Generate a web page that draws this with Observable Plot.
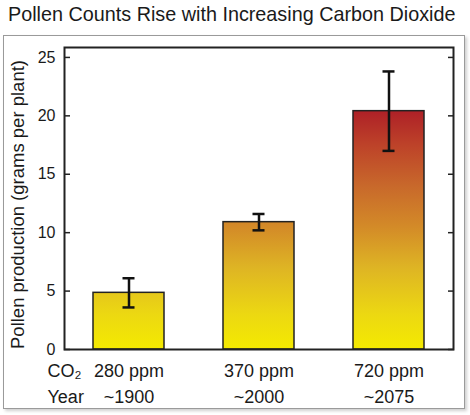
<!DOCTYPE html>
<html>
<head>
<meta charset="utf-8">
<script src="https://cdn.jsdelivr.net/npm/d3@7"></script>
<script src="https://cdn.jsdelivr.net/npm/@observablehq/plot@0.6"></script>
<style>
  html, body { margin: 0; padding: 0; background: #fff; }
  body { width: 470px; height: 415px; position: relative; overflow: hidden; font-family: "Liberation Sans", Arial, sans-serif; }
  #title { position: absolute; left: 8px; top: 3px; font-size: 19.8px; color: #1a1a1a; white-space: nowrap; }
  #panel { position: absolute; left: 3px; top: 35px; width: 460px; height: 372px; border: 1px solid #9a9a9a; box-shadow: 2px 2px 3px #cfcfcf; background: #fff; }
  #panel svg { display: block; }
</style>
</head>
<body>
<div id="title">Pollen Counts Rise with Increasing Carbon Dioxide</div>
<div id="panel"></div>
<script>
const co2Levels = ["280 ppm", "370 ppm", "720 ppm"];
const years = ["~1900", "~2000", "~2075"];
const pollen = [4.85, 10.9, 20.4];
const errLow = [3.6, 10.2, 17.0];
const errHigh = [6.1, 11.6, 23.8];
const yTicks = [0, 5, 10, 15, 20, 25];

const data = co2Levels.map((c, i) => ({co2: c, year: years[i], value: pollen[i], lo: errLow[i], hi: errHigh[i]}));
const yearOf = Object.fromEntries(data.map(d => [d.co2, d.year]));

const chart = Plot.plot({
  width: 460,
  height: 370,
  marginLeft: 60,
  marginRight: 11,
  marginTop: 11,
  marginBottom: 57,
  style: {fontFamily: "Liberation Sans, Arial, sans-serif", color: "#1a1a1a", background: "transparent"},
  x: {domain: co2Levels, paddingInner: 0.456, paddingOuter: 0.218, label: null},
  y: {domain: [0, 25.85], label: null},
  marks: [
    Plot.barY(data, {x: "co2", y: "value", fill: "url(#pollenGrad)", stroke: "#222", strokeWidth: 1.5}),
    Plot.ruleX(data, {x: "co2", y1: "lo", y2: "hi", stroke: "#111", strokeWidth: 2.5}),
    Plot.tickY(data, {x: "co2", y: "lo", stroke: "#111", strokeWidth: 2.5, insetLeft: 29.5, insetRight: 29.5}),
    Plot.tickY(data, {x: "co2", y: "hi", stroke: "#111", strokeWidth: 2.5, insetLeft: 29.5, insetRight: 29.5}),
    Plot.axisY(yTicks, {anchor: "left", tickSize: -6, tickPadding: 15, fontSize: 16, stroke: "#222", strokeWidth: 1.5, label: null}),
    Plot.axisY(yTicks, {anchor: "right", tickSize: -6, tickFormat: () => "", stroke: "#222", strokeWidth: 1.5, label: null}),
    Plot.axisX({tickSize: 0, tickPadding: 8.5, fontSize: 18, lineHeight: 1.45, tickFormat: d => d + "\n" + yearOf[d], label: null}),
    Plot.text(["CO₂\nYear"], {frameAnchor: "bottom-left", text: d => d, textAnchor: "start", lineAnchor: "top", dx: -17, dy: 8.5, fontSize: 18, lineHeight: 1.45, fill: "#1a1a1a"}),
    Plot.text(["Pollen production (grams per plant)"], {frameAnchor: "left", text: d => d, textAnchor: "middle", rotate: -90, dx: -46, dy: 6, fontSize: 18.5, fill: "#1a1a1a"}),
    Plot.frame({stroke: "#222", strokeWidth: 2})
  ]
});

const y = chart.scale("y");
const svg = d3.select(chart.tagName.toLowerCase() === "svg" ? chart : chart.querySelector("svg"));
const grad = svg.insert("defs", ":first-child").append("linearGradient")
  .attr("id", "pollenGrad")
  .attr("gradientUnits", "userSpaceOnUse")
  .attr("x1", 0).attr("x2", 0)
  .attr("y1", y.apply(0)).attr("y2", y.apply(25));
const stops = [[0, "#f4ea00"], [0.12, "#ecd812"], [0.28, "#deb424"], [0.42, "#d38a28"], [0.56, "#c8682b"], [0.7, "#bd4229"], [0.82, "#ad1f27"], [1, "#a0152a"]];
stops.forEach(([o, c]) => grad.append("stop").attr("offset", o).attr("stop-color", c));

document.getElementById("panel").appendChild(chart);
</script>
</body>
</html>
